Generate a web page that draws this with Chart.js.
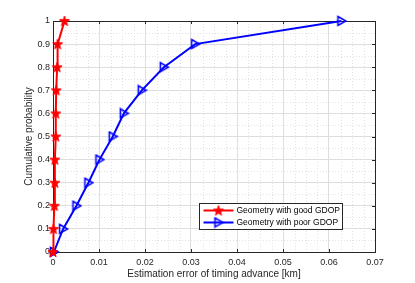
<!DOCTYPE html>
<html>
<head>
<meta charset="utf-8">
<script src="https://cdn.jsdelivr.net/npm/chart.js@4/dist/chart.umd.min.js"></script>
<style>
body { margin: 0; background: #fff; }
</style>
</head>
<body>
<canvas id="cdfChart" width="415" height="283"></canvas>
<script>
// cumulative probability levels (y) and estimation errors in km (x)
var cdfLevels = [0, 0.1, 0.2, 0.3, 0.4, 0.5, 0.6, 0.7, 0.8, 0.9, 1];
var goodGdopErr = [0, 0.0001, 0.0003, 0.0004, 0.0004, 0.0006, 0.0006, 0.0007, 0.0009, 0.0010, 0.0025];
var poorGdopErr = [0.0002, 0.0022, 0.0051, 0.0077, 0.0101, 0.0130, 0.0154, 0.0193, 0.0241, 0.0309, 0.0627];
var seriesNames = ["Geometry with good GDOP", "Geometry with poor GDOP"];
var xTicks = [0, 0.01, 0.02, 0.03, 0.04, 0.05, 0.06, 0.07];
var yTicks = [0, 0.1, 0.2, 0.3, 0.4, 0.5, 0.6, 0.7, 0.8, 0.9, 1];

var axisColor = "#262626";
var fontFamily = "'Liberation Sans', Arial, sans-serif";

function toPoints(xs) {
    return xs.map(function (x, i) { return {x: x, y: cdfLevels[i]}; });
}

// markers: filled pentagram and hollow right triangle
function makeStar(color) {
    var c = document.createElement("canvas");
    c.width = 12; c.height = 12;
    var g = c.getContext("2d");
    g.beginPath();
    for (var i = 0; i < 10; i++) {
        var r = i % 2 ? 2.1 : 5.3;
        var a = -Math.PI / 2 + i * Math.PI / 5;
        var px = 6 + r * Math.cos(a), py = 6.4 + r * Math.sin(a);
        if (i) g.lineTo(px, py); else g.moveTo(px, py);
    }
    g.closePath();
    g.fillStyle = color; g.fill();
    g.strokeStyle = color; g.lineWidth = 1; g.stroke();
    return c;
}

function makeTriangle(color) {
    var c = document.createElement("canvas");
    c.width = 12; c.height = 12;
    var g = c.getContext("2d");
    g.beginPath();
    g.moveTo(2.5, 1.5); g.lineTo(10.5, 6); g.lineTo(2.5, 10.5);
    g.closePath();
    g.strokeStyle = color; g.lineWidth = 1.6; g.stroke();
    return c;
}

var starMarker = makeStar("#ff0000");
var triMarker = makeTriangle("#0000ff");

function fmt(v) { return String(+Number(v).toFixed(3)); }

// minor dotted grid, box and inward ticks (matlab look)
var boxPlugin = {
    id: "boxPlugin",
    beforeDatasetsDraw: function (chart) {
        var ctx = chart.ctx, a = chart.chartArea;
        var xs = chart.scales.x, ys = chart.scales.y;
        ctx.save();
        ctx.strokeStyle = "#e2e2e2";
        ctx.lineWidth = 1;
        ctx.setLineDash([1, 2]);
        for (var i = 0; i < xTicks.length - 1; i++) {
            for (var k = 1; k < 4; k++) {
                var px = Math.round(xs.getPixelForValue(xTicks[i] + k * (xTicks[i + 1] - xTicks[i]) / 4)) + 0.5;
                ctx.beginPath(); ctx.moveTo(px, a.top); ctx.lineTo(px, a.bottom); ctx.stroke();
            }
        }
        for (var j = 0; j < yTicks.length - 1; j++) {
            var py = Math.round(ys.getPixelForValue((yTicks[j] + yTicks[j + 1]) / 2)) + 0.5;
            ctx.beginPath(); ctx.moveTo(a.left, py); ctx.lineTo(a.right, py); ctx.stroke();
        }
        ctx.setLineDash([]);
        ctx.strokeStyle = axisColor;
        ctx.lineWidth = 1;
        ctx.strokeRect(Math.round(a.left) + 0.5, Math.round(a.top) + 0.5,
            Math.round(a.right - a.left), Math.round(a.bottom - a.top));
        ctx.beginPath();
        xTicks.forEach(function (v) {
            var px = Math.round(xs.getPixelForValue(v)) + 0.5;
            ctx.moveTo(px, a.bottom); ctx.lineTo(px, a.bottom - 3);
            ctx.moveTo(px, a.top); ctx.lineTo(px, a.top + 3);
        });
        yTicks.forEach(function (v) {
            var py = Math.round(ys.getPixelForValue(v)) + 0.5;
            ctx.moveTo(a.left, py); ctx.lineTo(a.left + 3, py);
            ctx.moveTo(a.right, py); ctx.lineTo(a.right - 3, py);
        });
        ctx.stroke();
        ctx.restore();
    },
    afterDraw: function (chart) {
        var ctx = chart.ctx, a = chart.chartArea;
        var sets = chart.data.datasets;
        var w = 143, rowH = 12, h = sets.length * rowH + 2;
        var x0 = Math.round(a.right - 33 - w) + 0.5;
        var y0 = Math.round(a.bottom - 23 - h) + 0.5;
        ctx.save();
        ctx.fillStyle = "#fff";
        ctx.fillRect(x0, y0, w, h);
        ctx.strokeStyle = axisColor;
        ctx.lineWidth = 1;
        ctx.strokeRect(x0, y0, w, h);
        ctx.font = "8.5px " + fontFamily;
        ctx.textBaseline = "middle";
        sets.forEach(function (ds, i) {
            var cy = y0 + 1 + rowH * i + rowH / 2;
            ctx.strokeStyle = ds.borderColor;
            ctx.lineWidth = 2;
            ctx.beginPath(); ctx.moveTo(x0 + 4, cy); ctx.lineTo(x0 + 34, cy); ctx.stroke();
            var m = ds.pointStyle;
            ctx.drawImage(m, x0 + 19 - m.width / 2, cy - m.height / 2);
            ctx.fillStyle = "#000";
            ctx.fillText(ds.label, x0 + 37, cy + 0.5);
        });
        ctx.restore();
    }
};

var ctx = document.getElementById("cdfChart").getContext("2d");
new Chart(ctx, {
    type: "line",
    data: {
        datasets: [{
            label: seriesNames[0],
            data: toPoints(goodGdopErr),
            borderColor: "#ff0000",
            borderWidth: 2,
            pointStyle: starMarker,
            pointRadius: 5,
            tension: 0,
            clip: false
        }, {
            label: seriesNames[1],
            data: toPoints(poorGdopErr),
            borderColor: "#0000ff",
            borderWidth: 2,
            pointStyle: triMarker,
            pointRadius: 5,
            tension: 0,
            clip: false
        }]
    },
    options: {
        responsive: false,
        animation: false,
        layout: {padding: {left: 17, right: 40, top: 21, bottom: 0}},
        plugins: {legend: {display: false}, tooltip: {enabled: false}},
        scales: {
            x: {
                type: "linear",
                min: 0, max: 0.07,
                afterBuildTicks: function (s) { s.ticks = xTicks.map(function (v) { return {value: v}; }); },
                afterFit: function (s) { s.height = 31; },
                grid: {color: "#dedede", drawTicks: false},
                border: {display: false},
                ticks: {
                    padding: 5, maxRotation: 0, color: axisColor,
                    font: {family: fontFamily, size: 9},
                    callback: fmt
                },
                title: {
                    display: true, text: "Estimation error of timing advance [km]",
                    color: axisColor, font: {family: fontFamily, size: 10},
                    padding: {top: 0, bottom: 3}
                }
            },
            y: {
                min: 0, max: 1,
                afterBuildTicks: function (s) { s.ticks = yTicks.map(function (v) { return {value: v}; }); },
                afterFit: function (s) { s.width = 36; },
                grid: {color: "#dedede", drawTicks: false},
                border: {display: false},
                ticks: {
                    padding: 3, color: axisColor,
                    font: {family: fontFamily, size: 9},
                    callback: fmt
                },
                title: {
                    display: true, text: "Cumulative probability",
                    color: axisColor, font: {family: fontFamily, size: 10},
                    padding: {top: 6, bottom: 0}
                }
            }
        }
    },
    plugins: [boxPlugin]
});
</script>
</body>
</html>
